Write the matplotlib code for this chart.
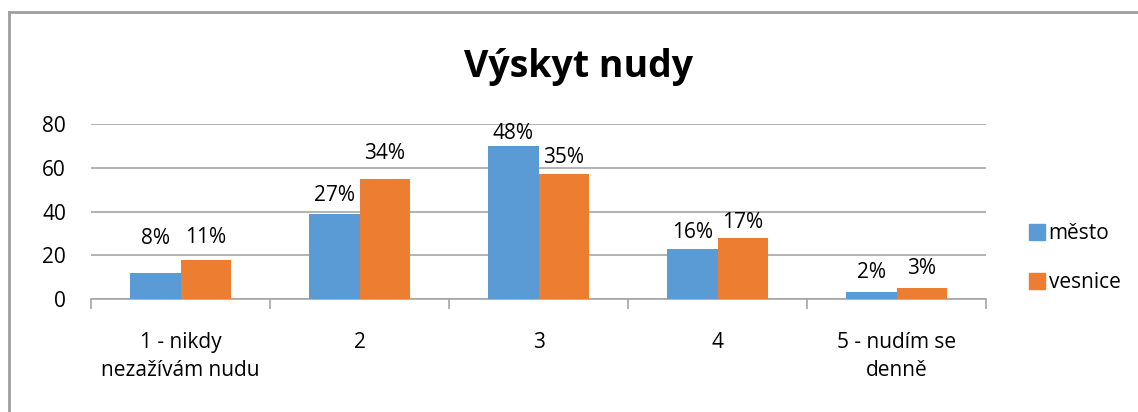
import matplotlib
matplotlib.use("Agg")
import matplotlib.pyplot as plt
from matplotlib.lines import Line2D
import numpy as np

plt.rcParams['font.family'] = ['Open Sans', 'DejaVu Sans']

# data
categories = ['1 - nikdy\nnezažívám nudu', '2', '3', '4', '5 - nudím se\ndenně']
mesto = [12, 39, 70, 23, 3]
vesnice = [18, 55, 57, 28, 5]
mesto_pct = ['8%', '27%', '48%', '16%', '2%']
vesnice_pct = ['11%', '34%', '35%', '17%', '3%']
series_names = ['město', 'vesnice']

# label offsets above the bars (points), the labels were nudged by hand in the original
mesto_dy = [25, 13, 9, 12, 14]
vesnice_dy = [16, 18, 12, 11, 14]

blue = '#5B9BD5'
orange = '#ED7D31'
grid = '#A6A6A6'
fs = 15

fig = plt.figure(figsize=(11.38, 4.12), dpi=100)
ax = fig.add_axes([91 / 1138, 1 - 299 / 412, (986 - 91) / 1138, (299 - 124) / 412])

x = np.arange(len(categories))
w = 0.28
b1 = ax.bar(x - w / 2, mesto, w, color=blue, label=series_names[0], zorder=3)
b2 = ax.bar(x + w / 2, vesnice, w, color=orange, label=series_names[1], zorder=3)

for rect, txt, dy in zip(b1, mesto_pct, mesto_dy):
    ax.annotate(txt, (rect.get_x() + rect.get_width() / 2, rect.get_height()),
                xytext=(0, dy), textcoords='offset points', ha='center', va='center', fontsize=fs)
for rect, txt, dy in zip(b2, vesnice_pct, vesnice_dy):
    ax.annotate(txt, (rect.get_x() + rect.get_width() / 2, rect.get_height()),
                xytext=(0, dy), textcoords='offset points', ha='center', va='center', fontsize=fs)

ax.set_xlim(-0.5, len(categories) - 0.5)
ax.set_ylim(0, 80)
ax.set_yticks([0, 20, 40, 60, 80])
ax.yaxis.grid(True, color=grid, linewidth=1.2, zorder=0)
ax.tick_params(axis='y', length=0, labelsize=fs, pad=18)

ax.set_xticks(x)
ax.set_xticklabels(categories, fontsize=fs, linespacing=1.4)
ax.set_xticks(np.arange(len(categories) + 1) - 0.5, minor=True)
ax.tick_params(axis='x', which='major', length=0, pad=24)
ax.tick_params(axis='x', which='minor', length=7, color=grid, width=1.2)

for s in ['top', 'right', 'left']:
    ax.spines[s].set_visible(False)
ax.spines['bottom'].set_color(grid)
ax.spines['bottom'].set_linewidth(1.2)

fig.text(579 / 1138, 1 - 77 / 412, 'Výskyt nudy', ha='center', va='baseline',
         fontsize=27, fontweight='bold')

handles = [Line2D([], [], marker='s', linestyle='', markersize=11, color=blue),
           Line2D([], [], marker='s', linestyle='', markersize=11, color=orange)]
fig.legend(handles, series_names, loc='center left', bbox_to_anchor=(1008 / 1138, 1 - 258 / 412),
           frameon=False, fontsize=fs, handletextpad=0.05, labelspacing=1.35, handlelength=1.0)

# chart frame (only top and left visible in the original)
fig.add_artist(Line2D([9 / 1138, 9 / 1138], [0, 1 - 12 / 412], transform=fig.transFigure,
                      color='#9E9E9E', linewidth=2))
fig.add_artist(Line2D([9 / 1138, 1], [1 - 12 / 412, 1 - 12 / 412], transform=fig.transFigure,
                      color='#9E9E9E', linewidth=2))

fig.savefig('out.png', dpi=100)
